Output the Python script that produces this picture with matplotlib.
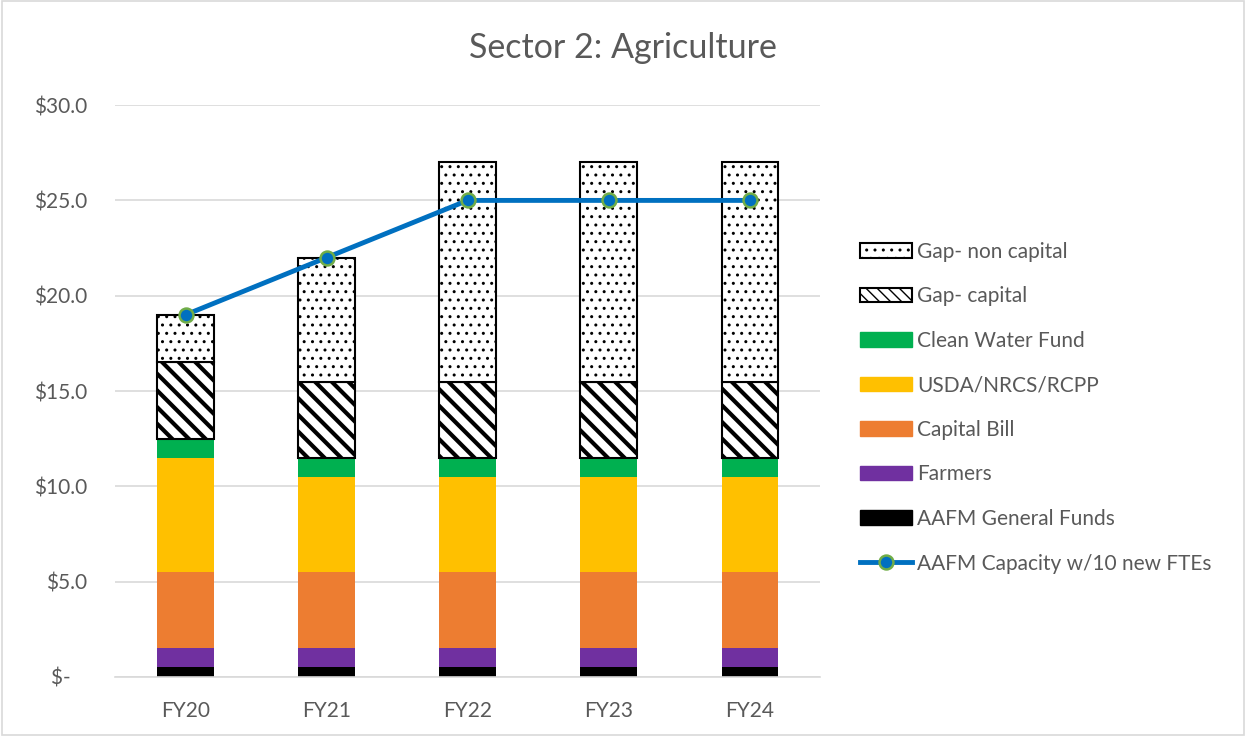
import matplotlib.pyplot as plt
import matplotlib.patches as mpatches
from matplotlib.lines import Line2D
import numpy

plt.rcParams['font.family'] = ['Lato', 'DejaVu Sans']

years = ["FY20", "FY21", "FY22", "FY23", "FY24"]
aafm_general = [0.5, 0.5, 0.5, 0.5, 0.5]
farmers = [1.0, 1.0, 1.0, 1.0, 1.0]
capital_bill = [4.0, 4.0, 4.0, 4.0, 4.0]
usda = [6.0, 5.0, 5.0, 5.0, 5.0]
clean_water = [1.0, 1.0, 1.0, 1.0, 1.0]
gap_capital = [4.0, 4.0, 4.0, 4.0, 4.0]
gap_non_capital = [2.5, 6.5, 11.5, 11.5, 11.5]
capacity = [19, 22, 25, 25, 25]

gray = "#595959"

fig = plt.figure(figsize=(12.46, 7.36), dpi=100)
ax = fig.add_axes([0.0923, 0.0802, 0.566, 0.777])

x = numpy.arange(len(years))
width = 0.4
bottom = numpy.zeros(len(years))

solid = [(aafm_general, "#000000"), (farmers, "#7030A0"),
         (capital_bill, "#ED7D31"), (usda, "#FFC000"), (clean_water, "#00B050")]
for values, color in solid:
    ax.bar(x, values, width, bottom=bottom, color=color, zorder=2)
    bottom += numpy.array(values)

with plt.rc_context({'hatch.linewidth': 3.0}):
    ax.bar(x, gap_capital, width, bottom=bottom, color="white", edgecolor="black",
           hatch="\\\\", linewidth=1.5, zorder=2)
bottom += numpy.array(gap_capital)
with plt.rc_context({'hatch.linewidth': 1.0}):
    ax.bar(x, gap_non_capital, width, bottom=bottom, color="white", edgecolor="black",
           hatch="..", linewidth=1.5, zorder=2)

ax.plot(x, capacity, color="#0070C0", linewidth=3.5, marker="o", markersize=10,
        markerfacecolor="#0070C0", markeredgecolor="#70AD47", markeredgewidth=1.8, zorder=3)

ax.set_xlim(-0.5, 4.5)
ax.set_ylim(0, 30)
ax.set_xticks(x)
ax.set_xticklabels(years)
ticks = [0, 5, 10, 15, 20, 25, 30]
ax.set_yticks(ticks)
ax.set_yticklabels(["$-   "] + ["${:.1f}".format(t) for t in ticks[1:]])
ax.tick_params(length=0, labelsize=15, colors=gray)
ax.tick_params(axis="y", pad=20)
ax.tick_params(axis="x", pad=17)
ax.grid(axis="y", color="#d9d9d9", linewidth=1.2, zorder=0)
for s in ["top", "right", "left"]:
    ax.spines[s].set_visible(False)
ax.spines["bottom"].set_color("#d9d9d9")
ax.spines["bottom"].set_linewidth(1.2)

fig.suptitle("Sector 2: Agriculture", x=0.5, y=0.957, fontsize=24.5, color=gray)

with plt.rc_context({'hatch.linewidth': 1.0}):
    h_non = mpatches.Patch(facecolor="white", edgecolor="black", hatch="..", linewidth=1.5)
with plt.rc_context({'hatch.linewidth': 3.0}):
    h_cap = mpatches.Patch(facecolor="white", edgecolor="black", hatch="\\\\\\", linewidth=1.5)
handles = [h_non, h_cap,
           mpatches.Patch(color="#00B050"), mpatches.Patch(color="#FFC000"),
           mpatches.Patch(color="#ED7D31"), mpatches.Patch(color="#7030A0"),
           mpatches.Patch(color="#000000"),
           Line2D([], [], color="#0070C0", linewidth=3.5, marker="o", markersize=10,
                  markerfacecolor="#0070C0", markeredgecolor="#70AD47", markeredgewidth=1.8)]
labels = ["Gap- non capital", "Gap- capital", "Clean Water Fund", "USDA/NRCS/RCPP",
          "Capital Bill", "Farmers", "AAFM General Funds", "AAFM Capacity w/10 new FTEs"]
leg = fig.legend(handles, labels, loc="upper left", bbox_to_anchor=(0.682, 0.686),
                 frameon=False, fontsize=15, labelspacing=1.18, handlelength=2.5,
                 handleheight=0.7, handletextpad=0.25, borderpad=0)
for t in leg.get_texts():
    t.set_color(gray)

fig.patches.append(mpatches.Rectangle((0.002, 0.002), 0.996, 0.996, transform=fig.transFigure,
                                      fill=False, edgecolor="#d9d9d9", linewidth=1.2))

fig.savefig("out.png", dpi=100)
